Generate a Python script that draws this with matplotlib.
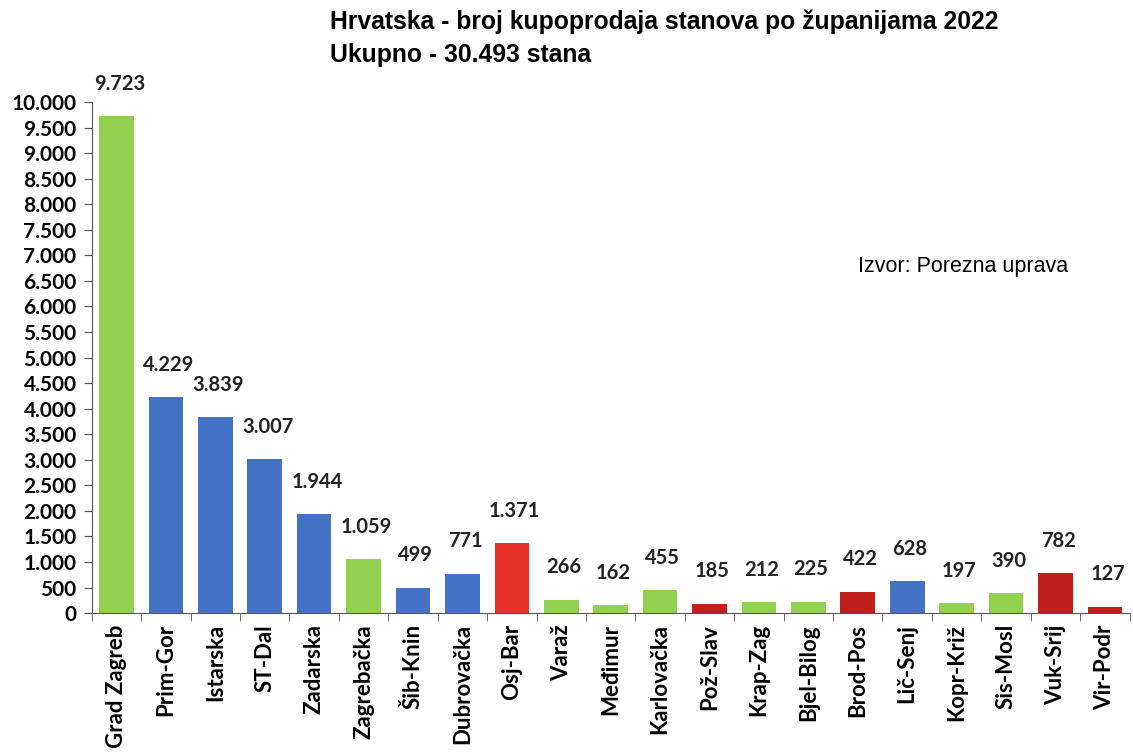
import numpy as np
import matplotlib.pyplot as plt
import matplotlib.ticker as ticker

# data
zupanije = ['Grad Zagreb', 'Prim-Gor', 'Istarska', 'ST-Dal', 'Zadarska', 'Zagrebačka',
            'Šib-Knin', 'Dubrovačka', 'Osj-Bar', 'Varaž', 'Međimur', 'Karlovačka',
            'Pož-Slav', 'Krap-Zag', 'Bjel-Bilog', 'Brod-Pos', 'Lič-Senj', 'Kopr-Križ',
            'Sis-Mosl', 'Vuk-Srij', 'Vir-Podr']
kupoprodaje = [9723, 4229, 3839, 3007, 1944, 1059, 499, 771, 1371, 266, 162, 455,
               185, 212, 225, 422, 628, 197, 390, 782, 127]
grupa = ['g', 'b', 'b', 'b', 'b', 'g', 'b', 'b', 'r', 'g', 'g', 'g',
         'd', 'g', 'g', 'd', 'b', 'g', 'g', 'd', 'd']

boje = {'g': '#92D050', 'b': '#4472C4', 'r': '#E8302A', 'd': '#C0201C'}


def fmt_hr(v, pos=None):
    return f'{int(v):,}'.replace(',', '.')


fig = plt.figure(figsize=(11.33, 7.56), dpi=100)
ax = fig.add_axes([0.081, 0.189, 0.916, 0.676])

x = np.arange(len(zupanije))
ax.bar(x, kupoprodaje, width=0.7, color=[boje[g] for g in grupa], zorder=2)

for xi, v in zip(x, kupoprodaje):
    ax.annotate(fmt_hr(v), (xi, v), xytext=(2, 16), textcoords='offset points',
                ha='center', va='bottom', fontsize=14.5, fontweight='bold',
                family='Lato', color='#222222')

ax.set_xlim(-0.5, len(zupanije) - 0.5)
ax.set_ylim(0, 10000)
ax.yaxis.set_major_locator(ticker.MultipleLocator(500))
ax.yaxis.set_major_formatter(ticker.FuncFormatter(fmt_hr))

ax.set_xticks(x)
ax.set_xticklabels(zupanije, rotation=90, fontsize=16, fontweight='bold', family='Lato')
ax.set_xticks(np.arange(-0.5, len(zupanije)), minor=True)
ax.tick_params(axis='x', which='major', length=0, pad=8)
ax.tick_params(axis='x', which='minor', length=6, color='#555555')
ax.tick_params(axis='y', length=6, color='#555555', pad=5)
for lbl in ax.get_yticklabels():
    lbl.set_fontweight('bold')
    lbl.set_fontsize(15)
    lbl.set_family('Lato')

for s in ['top', 'right']:
    ax.spines[s].set_visible(False)
ax.spines['left'].set_color('#555555')
ax.spines['bottom'].set_color('#555555')

fig.text(0.291, 0.971, 'Hrvatska - broj kupoprodaja stanova po županijama 2022',
         fontsize=17.8, fontweight='bold', family='Liberation Sans', va='center')
fig.text(0.291, 0.927, 'Ukupno - 30.493 stana',
         fontsize=17.8, fontweight='bold', family='Liberation Sans', va='center')
fig.text(0.757, 0.647, 'Izvor: Porezna uprava', fontsize=15.5, family='Liberation Sans',
         va='center')

plt.savefig('out.png', dpi=100)
